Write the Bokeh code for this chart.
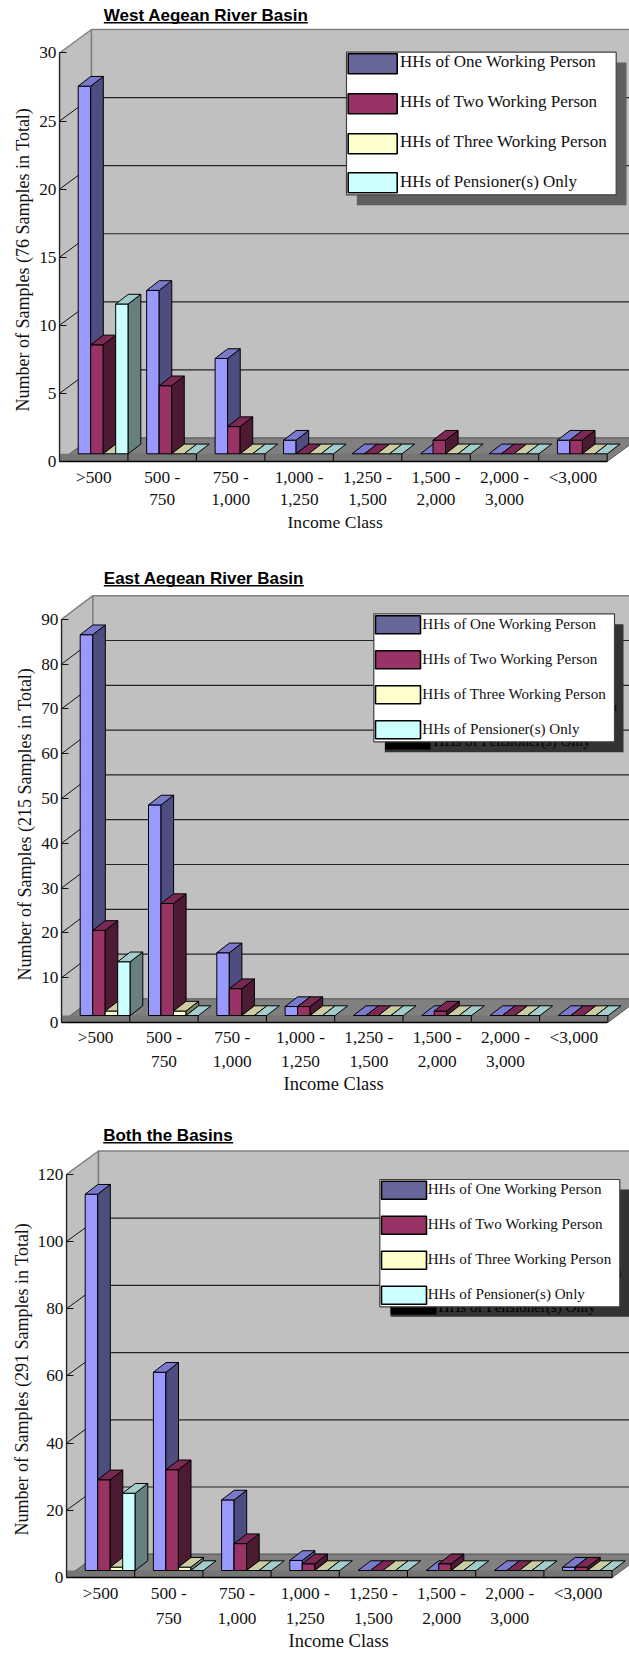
from bokeh.core.properties import value
from bokeh.embed import file_html
from bokeh.models import (ColumnDataSource, FixedTicker, Label, Legend, LegendItem,
                          LinearAxis, Range1d, Title)
from bokeh.plotting import figure
from bokeh.resources import INLINE

# Income classes, split over the two tick-label rows
CLASS_ROW1 = [">500", "500 -", "750 -", "1,000 -", "1,250 -", "1,500 -", "2,000 -", "<3,000"]
CLASS_ROW2 = ["", "750", "1,000", "1,250", "1,500", "2,000", "3,000", ""]
SERIES = ["HHs of One Working Person", "HHs of Two Working Person",
          "HHs of Three Working Person", "HHs of Pensioner(s) Only"]

# Household counts per income class
WEST_ONE = [27, 12, 7, 1, 0, 0, 0, 1]
WEST_TWO = [8, 5, 2, 0, 0, 1, 0, 1]
WEST_THREE = [0, 0, 0, 0, 0, 0, 0, 0]
WEST_PENSIONER = [11, 0, 0, 0, 0, 0, 0, 0]

EAST_ONE = [85, 47, 14, 2, 0, 0, 0, 0]
EAST_TWO = [19, 25, 6, 2, 0, 1, 0, 0]
EAST_THREE = [1, 1, 0, 0, 0, 0, 0, 0]
EAST_PENSIONER = [12, 0, 0, 0, 0, 0, 0, 0]

BOTH_ONE = [112, 59, 21, 3, 0, 0, 0, 1]
BOTH_TWO = [27, 30, 8, 2, 0, 2, 0, 1]
BOTH_THREE = [1, 1, 0, 0, 0, 0, 0, 0]
BOTH_PENSIONER = [23, 0, 0, 0, 0, 0, 0, 0]

WEST_TICKS = [0, 5, 10, 15, 20, 25, 30]
EAST_TICKS = [0, 10, 20, 30, 40, 50, 60, 70, 80, 90]
BOTH_TICKS = [0, 20, 40, 60, 80, 100, 120]

# Shaded faces of each series: front, top, side, legend swatch
FRONT = ["#9999ff", "#993366", "#ffffcc", "#ccffff"]
TOP = ["#7a7acc", "#7a2952", "#ccccA3", "#a3cccc"]
SIDE = ["#4d4d80", "#4d1a33", "#808066", "#668080"]
SWATCH = ["#666699", "#993366", "#ffffcc", "#ccffff"]

SERIF = "Liberation Serif"
TICK_FONT = "17.3px"
AXIS_FONT = "18px"
BAR_W, BAR_DX, BAR_DY = 12.5, 12.6, 9.7


def chart(title, series, ticks, ylabel, g):
    top, floor, left = g["top"], g["floor"], g["left"]
    catw, unit, dx, dy = g["catw"], g["unit"], g["dx"], g["dy"]
    width, height = 629, g["bottom"] - top
    X = lambda px: (px - left) / catw
    Y = lambda py: (floor - py) / unit
    n = len(CLASS_ROW1)
    ymax = ticks[-1]
    wall_dx, wall_dy = dx / catw, dy / unit
    base = Y(g["base"])

    p = figure(width=width, height=height, output_backend="svg", toolbar_location=None,
               x_axis_type=None, y_axis_type=None, min_border_left=left, min_border_right=0,
               min_border_top=0, min_border_bottom=g["bottom"] - floor,
               x_range=Range1d(0, X(width)), y_range=Range1d(0, Y(top)),
               background_fill_color="white", border_fill_color="white", outline_line_color=None)
    p.grid.visible = False

    # Left wall, back wall and floor of the chart box
    p.patch([0, wall_dx, wall_dx, 0], [0, wall_dy, ymax + wall_dy, ymax],
            fill_color="#c0c0c0", line_color="#808080", line_width=1.5)
    p.patch([wall_dx, n + wall_dx, n + wall_dx, wall_dx], [wall_dy, wall_dy, ymax + wall_dy, ymax + wall_dy],
            fill_color="#c0c0c0", line_color="#808080", line_width=1.5)
    p.segment(x0=[0] * (len(ticks) - 2), y0=ticks[1:-1], x1=[wall_dx] * (len(ticks) - 2),
              y1=[t + wall_dy for t in ticks[1:-1]], line_color="#111111", line_width=1)
    p.segment(x0=[wall_dx] * (len(ticks) - 2), y0=[t + wall_dy for t in ticks[1:-1]],
              x1=[n + wall_dx] * (len(ticks) - 2), y1=[t + wall_dy for t in ticks[1:-1]],
              line_color="#222222", line_width=1.2)
    p.patch([0, wall_dx, n + wall_dx, n], [0, wall_dy, wall_dy, 0],
            fill_color="#808080", line_color="#5c5c5c", line_width=1)
    p.quad(left=[0], right=[n], bottom=[0], top=[base], fill_color="#757575", line_color=None)
    p.segment(x0=list(range(1, n + 1)), y0=[0] * n, x1=list(range(1, n + 1)), y1=[base] * n,
              line_color="black", line_width=1)

    # Bars as three faces each, painted from left to right
    xs, ys, colors = [], [], []
    w, ddx, ddy = BAR_W / catw, BAR_DX / catw, BAR_DY / unit
    for k in range(n):
        for s, vals in enumerate(series):
            v = vals[k]
            x = k + (g["lead"] + s * BAR_W) / catw
            t = base + v
            if v > 0:
                xs.append([x, x + w, x + w, x])
                ys.append([base, base, t, t])
                colors.append(FRONT[s])
                xs.append([x + w, x + w + ddx, x + w + ddx, x + w])
                ys.append([base, base + ddy, t + ddy, t])
                colors.append(SIDE[s])
            xs.append([x, x + w, x + w + ddx, x + ddx])
            ys.append([t, t, t + ddy, t + ddy])
            colors.append(TOP[s])
    p.patches("xs", "ys", fill_color="colors", line_color="black", line_width=1,
              source=ColumnDataSource(dict(xs=xs, ys=ys, colors=colors)))

    # Legend panel: drop shadow, the stale copy showing through it, then the white box
    bx0, bx1, by0, by1 = g["box"]
    sx1 = g["shadow_right"]
    p.quad(left=[X(bx0 + g["sdx"])], right=[X(sx1)], top=[Y(by0 + g["sdy"])], bottom=[Y(by1 + g["sdy"])],
           fill_color=g["shadow"], line_color=None)
    if g["ghost"]:
        gx0, gx1, gy0, gy1 = g["ghost_swatch"]
        p.quad(left=[X(gx0)], right=[X(gx1)], top=[Y(gy0)], bottom=[Y(gy1)], fill_color="black", line_color=None)
        p.text(x=[X(g["text_x"] + g["sdx"] - 0.3)] * 2,
               y=[Y(g["rows"][i] + g["swatch_h"] / 2 + 11.5) for i in (2, 3)],
               text=SERIES[2:], text_font=value(SERIF), text_font_size=value(g["legend_font"]),
               text_color="black", text_baseline="middle")
    p.quad(left=[X(bx0)], right=[X(bx1)], top=[Y(by0)], bottom=[Y(by1)],
           fill_color="white", line_color="#404040", line_width=1.2)

    # Legend swatches in the panel, with the legend supplying the entry labels beside them
    sw_x, sw_w, sw_h = g["swatch_x"], g["swatch_w"], g["swatch_h"]
    p.quad(left=[X(sw_x)] * 4, right=[X(sw_x + sw_w)] * 4,
           top=[Y(r) for r in g["rows"]], bottom=[Y(r + sw_h) for r in g["rows"]],
           fill_color=SWATCH, line_color="black", line_width=1.6)
    items = []
    for name in SERIES:
        r = p.quad(left=[-3], right=[-2], top=[-2], bottom=[-3], fill_alpha=0, line_alpha=0)
        items.append(LegendItem(label=name, renderers=[r]))
    pitch = int(round(g["rows"][1] - g["rows"][0]))
    gh = int(round(sw_h))
    legend = Legend(items=items, location=(g["text_x"] - 1 - left, floor - (g["rows"][3] + sw_h)),
                    padding=0, margin=0, spacing=pitch - gh, glyph_width=1, glyph_height=gh, label_standoff=0,
                    label_text_font=SERIF, label_text_font_size=g["legend_font"], label_height=10,
                    background_fill_alpha=0, border_line_color=None, label_text_color="#111111")
    p.add_layout(legend)

    # Value axis
    yaxis = LinearAxis(ticker=FixedTicker(ticks=ticks), bounds=(0, ymax), major_tick_in=7, major_tick_out=0,
                       minor_tick_line_color=None, major_label_standoff=3, major_label_text_font=SERIF,
                       major_label_text_font_size=TICK_FONT, major_label_text_color="#111111",
                       axis_line_color="#222222", axis_line_width=1.3, major_tick_line_color="#111111")
    p.add_layout(yaxis, "left")

    # Income class axis: one axis for each row of its two-row labels
    centers = [k + 0.5 for k in range(n)]
    row1 = LinearAxis(ticker=FixedTicker(ticks=centers), bounds=(0, n),
                      major_label_overrides=dict(zip(centers, CLASS_ROW1)),
                      major_tick_line_color=None, minor_tick_line_color=None, major_tick_in=0, major_tick_out=0,
                      axis_line_color="black", axis_line_width=1.3, major_label_standoff=g["row1_standoff"],
                      major_label_text_font=SERIF, major_label_text_font_size=TICK_FONT,
                      major_label_text_color="#111111")
    row2 = LinearAxis(ticker=FixedTicker(ticks=centers), bounds=(0, n),
                      major_label_overrides=dict(zip(centers, CLASS_ROW2)),
                      major_tick_line_color=None, minor_tick_line_color=None, major_tick_in=0, major_tick_out=0,
                      axis_line_color=None, major_label_standoff=g["row2_standoff"],
                      major_label_text_font=SERIF, major_label_text_font_size=TICK_FONT,
                      major_label_text_color="#111111")
    p.add_layout(row1, "below")
    p.add_layout(row2, "below")

    # Axis titles, placed by their distance from the frame's lower left corner
    p.add_layout(Title(text="Income Class", align="left", offset=g["xtitle_offset"], standoff=g["xtitle_standoff"],
                       text_font=SERIF, text_font_style="normal", text_font_size=g["xtitle_font"],
                       text_color="#111111"), "below")
    p.add_layout(Title(text=ylabel, align="left", offset=g["ytitle_offset"], standoff=g["ytitle_standoff"],
                       text_font=SERIF, text_font_style="normal", text_font_size=AXIS_FONT,
                       text_color="#111111"), "left")

    # Underlined heading
    tx, base_y, tw = g["title"]
    p.add_layout(Label(x=X(tx), y=Y(base_y - 5.5), text=title, text_font="Liberation Sans", text_font_style="bold",
                       text_font_size="17px", text_baseline="middle", text_color="black"))
    p.segment(x0=[X(tx)], y0=[Y(base_y + 2.2)], x1=[X(tx + tw)], y1=[Y(base_y + 2.2)], line_color="black", line_width=1.5)
    return p


west = chart("West Aegean River Basin", [WEST_ONE, WEST_TWO, WEST_THREE, WEST_PENSIONER], WEST_TICKS,
             "Number of Samples (76 Samples in Total)",
             dict(top=0, bottom=545, floor=461, left=59, catw=68.46, unit=13.617, dx=32, dy=23.5, base=453.3, lead=18.7,
                  box=(346, 615.7, 51.7, 194.3), sdx=10.3, sdy=10.4, shadow="#5f5f5f", shadow_right=626, ghost=False,
                  swatch_x=347.7, swatch_w=49, swatch_h=20, rows=[53.3, 93.3, 133.3, 172.3], text_x=400,
                  legend_font="17px", row1_standoff=6, row2_standoff=4, xtitle_font="17.6px",
                  xtitle_offset=228, xtitle_standoff=4, ytitle_offset=50, ytitle_standoff=8, title=(103.3, 20, 204)))
east = chart("East Aegean River Basin", [EAST_ONE, EAST_TWO, EAST_THREE, EAST_PENSIONER], EAST_TICKS,
             "Number of Samples (215 Samples in Total)",
             dict(top=545, bottom=1100, floor=1022, left=61, catw=68.3, unit=4.48, dx=31.4, dy=23.6, base=1015, lead=18.7,
                  box=(373.3, 614, 613.3, 741.3), sdx=11, sdy=10.5, shadow="#333333", shadow_right=623, ghost=True,
                  ghost_swatch=(384.5, 430, 735, 749), swatch_x=375, swatch_w=45, swatch_h=18,
                  rows=[615.3, 650.3, 685.3, 720.3], text_x=422.3, legend_font="15.1px", row1_standoff=5, row2_standoff=6,
                  xtitle_font="18.5px", xtitle_offset=222, xtitle_standoff=4, ytitle_offset=42, ytitle_standoff=7,
                  title=(103.3, 583, 200)))
both = chart("Both the Basins", [BOTH_ONE, BOTH_TWO, BOTH_THREE, BOTH_PENSIONER], BOTH_TICKS,
             "Number of Samples (291 Samples in Total)",
             dict(top=1100, bottom=1653, floor=1577, left=66, catw=68.2, unit=3.36, dx=32, dy=23.3, base=1570, lead=18.7,
                  box=(379.3, 619.3, 1179, 1306.3), sdx=10.7, sdy=10, shadow="#333333", shadow_right=629, ghost=True,
                  ghost_swatch=(390, 436, 1300, 1314), swatch_x=381, swatch_w=45, swatch_h=18,
                  rows=[1180.7, 1215.7, 1250.7, 1285.7], text_x=427.7, legend_font="15.1px", row1_standoff=6, row2_standoff=7,
                  xtitle_font="18.5px", xtitle_offset=222, xtitle_standoff=5, ytitle_offset=42, ytitle_standoff=5,
                  title=(102.7, 1140, 130)))

# Separate document roots keep each chart's frame at its own left offset
open("out.html", "w").write(file_html((west, east, both), INLINE))
